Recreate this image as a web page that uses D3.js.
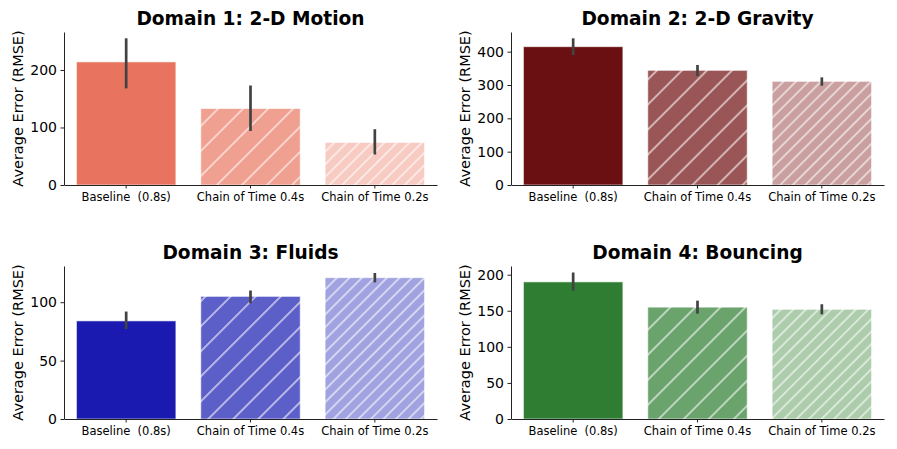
<!DOCTYPE html>
<html>
<head>
<meta charset="utf-8">
<script src="https://cdn.jsdelivr.net/npm/d3@7"></script>
<style>
body { margin: 0; background: #fff; }
text { font-family: "DejaVu Sans", sans-serif; fill: #000; white-space: pre; }
</style>
</head>
<body>
<div id="chart"></div>
<script>
const categories = ["Baseline  (0.8s)", "Chain of Time 0.4s", "Chain of Time 0.2s"];
const titles = ["Domain 1: 2-D Motion", "Domain 2: 2-D Gravity", "Domain 3: Fluids", "Domain 4: Bouncing"];
const means = [[214, 133, 74], [415, 344, 311], [84, 105, 121], [190, 155, 152]];
const errLow = [[168, 94, 53], [390, 327, 298], [77, 99, 117], [178, 146, 145]];
const errHigh = [[255, 173, 97], [440, 360, 323], [92, 110, 125], [203, 164, 159]];
const yMax = [266, 459, 131, 212];
const yTicks = [[0, 100, 200], [0, 100, 200, 300, 400], [0, 50, 100], [0, 50, 100, 150, 200]];
const colors = [
  ["#e8735f", "#f0a091", "#f7cbc2"],
  ["#6b1012", "#9a5656", "#c9a09f"],
  ["#1a1ab0", "#5d5fc9", "#a1a2e0"],
  ["#2e7d32", "#6ba36d", "#acccac"]
];
const hatchGap = [0, 17.7, 8.85];

const W = 897, H = 449;
const svg = d3.select("#chart").append("svg").attr("width", W).attr("height", H);
const defs = svg.append("defs");

// panel boxes (axes area)
const boxes = [
  {x0: 64, x1: 437, y0: 32, y1: 185},
  {x0: 511, x1: 884, y0: 32, y1: 185},
  {x0: 64, x1: 437, y0: 266, y1: 419},
  {x0: 511, x1: 884, y0: 266, y1: 419}
];

boxes.forEach(function(b, p) {
  var x = d3.scaleBand().domain(categories).range([b.x0, b.x1]).paddingInner(0.2).paddingOuter(0.1);
  var y = d3.scaleLinear().domain([0, yMax[p]]).range([b.y1, b.y0]);
  var g = svg.append("g");

  // hatch patterns
  colors[p].forEach(function(c, i) {
    if (!hatchGap[i]) return;
    var pat = defs.append("pattern")
      .attr("id", "hatch-" + p + "-" + i)
      .attr("patternUnits", "userSpaceOnUse")
      .attr("width", hatchGap[i]).attr("height", 20)
      .attr("patternTransform", "rotate(45)");
    pat.append("rect").attr("width", hatchGap[i]).attr("height", 20).attr("fill", c);
    pat.append("line").attr("x1", 1).attr("x2", 1).attr("y1", 0).attr("y2", 20)
      .attr("stroke", "#fff").attr("stroke-width", 1.1);
  });

  // bars
  g.selectAll(".bar").data(categories).enter().append("rect")
    .attr("x", d => x(d))
    .attr("width", x.bandwidth())
    .attr("y", (d, i) => y(means[p][i]))
    .attr("height", (d, i) => y(0) - y(means[p][i]))
    .attr("fill", (d, i) => hatchGap[i] ? "url(#hatch-" + p + "-" + i + ")" : colors[p][i])
    .attr("stroke", "#fff").attr("stroke-opacity", 0.6).attr("stroke-width", 1);

  // error bars
  g.selectAll(".err").data(categories).enter().append("line")
    .attr("x1", d => x(d) + x.bandwidth() / 2)
    .attr("x2", d => x(d) + x.bandwidth() / 2)
    .attr("y1", (d, i) => y(errLow[p][i]))
    .attr("y2", (d, i) => y(errHigh[p][i]))
    .attr("stroke", "#424242").attr("stroke-width", 2.7);

  // axes
  var ax = g.append("g").attr("transform", "translate(0," + b.y1 + ")")
    .call(d3.axisBottom(x).tickSize(3.5).tickPadding(4.5).tickSizeOuter(0));
  ax.selectAll("text").style("font-size", "11.5px");
  var ay = g.append("g").attr("transform", "translate(" + b.x0 + ",0)")
    .call(d3.axisLeft(y).tickValues(yTicks[p]).tickSize(3.5).tickPadding(3.5).tickSizeOuter(0));
  ay.selectAll("text").style("font-size", "14px");
  [ax, ay].forEach(a => {
    a.select(".domain").attr("stroke", "#222").attr("stroke-width", 1);
    a.selectAll(".tick line").attr("stroke", "#222");
  });

  // y title
  g.append("text")
    .attr("transform", "rotate(-90)")
    .attr("x", -(b.y0 + b.y1) / 2)
    .attr("y", b.x0 - 41)
    .attr("text-anchor", "middle")
    .style("font-size", "14.5px")
    .text("Average Error (RMSE)");

  // title
  g.append("text")
    .attr("x", (b.x0 + b.x1) / 2)
    .attr("y", b.y0 - 7)
    .attr("text-anchor", "middle")
    .style("font-size", "18.6px").style("font-weight", "bold")
    .text(titles[p]);
});
</script>
</body>
</html>
